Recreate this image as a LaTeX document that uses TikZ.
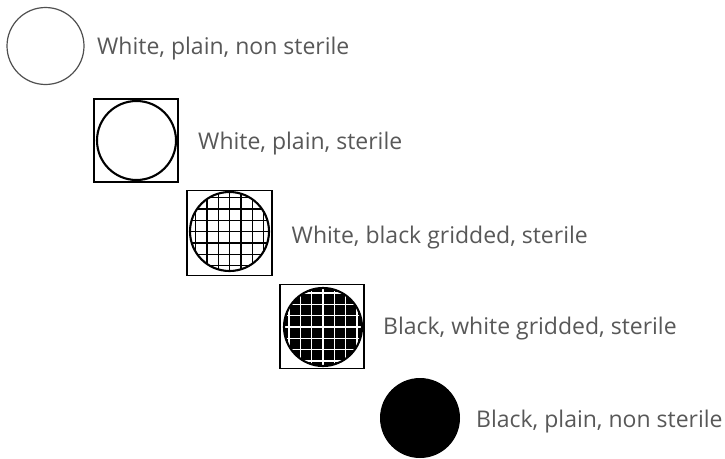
\documentclass[tikz,border=0pt]{standalone}
\usepackage{fontspec}
\setmainfont{Open Sans}
\definecolor{txtgray}{RGB}{88,88,88}
\definecolor{ringgray}{RGB}{80,80,80}
\begin{document}
\begin{tikzpicture}[x=1pt,y=-1pt,
  lbl/.style={anchor=base west,inner sep=0pt,text=txtgray,font=\fontsize{23}{27}\selectfont},
  boxnode/.style={draw=black,line width=1.9pt,rectangle,inner sep=0pt},
  disc/.style={circle,inner sep=0pt,line width=2.1pt},
  wgrid/.style={path picture={
      \foreach \d in {-34,-22.7,-11.3,0,11.3,22.7,34}{
        \draw[line width=1.4pt,black] ([xshift=\d pt]path picture bounding box.north) -- ([xshift=\d pt]path picture bounding box.south);
        \draw[line width=1.4pt,black] ([yshift=\d pt]path picture bounding box.west) -- ([yshift=\d pt]path picture bounding box.east);}}},
  bgrid/.style={path picture={
      \foreach \d in {-34,-22.7,-11.3,0,11.3,22.7,34}{
        \draw[line width=1.4pt,white] ([xshift=\d pt]path picture bounding box.north) -- ([xshift=\d pt]path picture bounding box.south);
        \draw[line width=1.4pt,white] ([yshift=\d pt]path picture bounding box.west) -- ([yshift=\d pt]path picture bounding box.east);}}}
]
\useasboundingbox (0,0) rectangle (725,458);
% 1
\node[circle,draw=ringgray,line width=1.2pt,minimum size=77pt,inner sep=0pt] (c1) at (45.5,46) {};
\node[lbl] (t1) at (97,54.3) {White, plain, non sterile};
% 2
\node[boxnode,minimum width=84pt,minimum height=83pt] (b2) at (136,140.5) {};
\node[disc,draw=black,minimum size=79pt] (c2) at (136.5,140.5) {};
\node[lbl] (t2) at (198,149) {White, plain, sterile};
% 3
\node[boxnode,minimum width=85pt,minimum height=85pt] (b3) at (229.5,233) {};
\node[disc,draw=black,fill=white,minimum size=79pt,wgrid] (c3) at (229.5,231.5) {};
\node[lbl] (t3) at (291.5,243) {White, black gridded, sterile};
% 4
\node[boxnode,minimum width=84pt,minimum height=84pt] (b4) at (322,326.5) {};
\node[disc,draw=black,fill=black,minimum size=78pt,bgrid] (c4) at (323,327) {};
\node[lbl] (t4) at (383,334.5) {Black, white gridded, sterile};
% 5
\node[circle,fill=black,inner sep=0pt,minimum size=80pt] (c5) at (420,418) {};
\node[lbl] (t5) at (476,427) {Black, plain, non sterile};
\end{tikzpicture}
\end{document}
